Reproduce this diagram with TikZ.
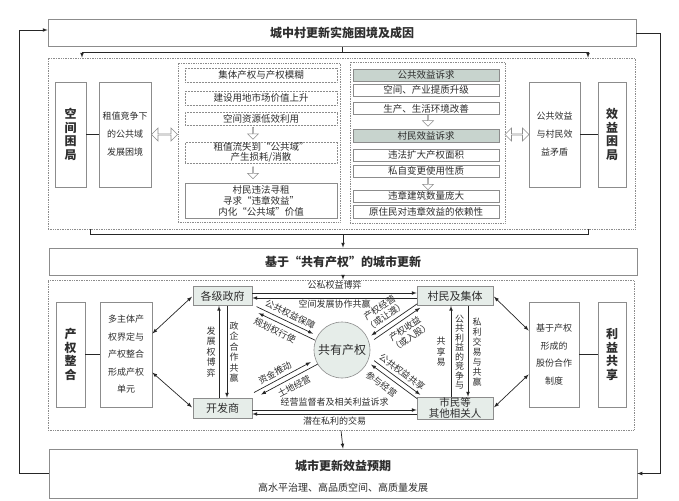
\documentclass[tikz,border=0pt]{standalone}
\usepackage{fontspec}
\setmainfont{Noto Sans CJK SC}
\usepackage{tikz}
\usetikzlibrary{arrows}
\usetikzlibrary{shapes.arrows}
\definecolor{linegray}{HTML}{8C8C8C}
\definecolor{textgray}{HTML}{2E2E2E}
\definecolor{headfill}{HTML}{C8D4CE}
\definecolor{nodefill}{HTML}{E6EDE9}

\begin{document}
\begin{tikzpicture}[x=1pt, y=-1pt, >=latex,
    every node/.style={text=textgray, inner sep=0pt},
    frame/.style={draw=linegray, line width=0.7pt, fill=white},
    area/.style={draw=linegray, line width=0.6pt, dash pattern=on 0.8pt off 0.9pt},
    headline/.style={frame, minimum width=588pt, minimum height=27pt, font=\fontsize{12}{14}\selectfont\bfseries},
    vlabel/.style={frame, align=center, minimum height=105pt, font=\fontsize{12}{13.5}\selectfont\bfseries},
    tbox/.style={frame, align=center, minimum height=105pt},
    item/.style={draw=linegray, line width=0.5pt, fill=white, minimum width=152pt, align=center, font=\fontsize{9.5}{11}\selectfont},
    ritem/.style={item, minimum width=146pt, minimum height=12pt},
    head/.style={ritem, fill=headfill},
    actor/.style={draw=linegray, line width=0.6pt, fill=nodefill, align=center, font=\fontsize{11}{11.5}\selectfont},
    conn/.style={line width=0.7pt, draw=black!85},
    small/.style={font=\fontsize{9}{10.5}\selectfont},
    vtext/.style={align=center, font=\fontsize{9}{10.5}\selectfont},
    hollowlr/.style={double arrow, draw=linegray, fill=white, line width=0.6pt, minimum width=13pt, minimum height=25pt, double arrow head extend=3pt},
    hollowdn/.style={single arrow, draw=linegray, fill=white, line width=0.5pt, minimum width=11pt, minimum height=12pt, single arrow head extend=2.5pt, shape border rotate=270}]

    \useasboundingbox (0,0) rectangle (679,500);

    \node[headline] (top) at (342,33) {城中村更新实施困境及成因};

    \node[area, minimum width=587pt, minimum height=171pt] (reg1) at (341.5,143.5) {};
    \coordinate (tl) at (82,52);
    \coordinate (tr) at (588,52);
    \draw[conn] (top.south) -- (top.south |- tl);
    \draw[conn, ->] (tl) -- (tl |- reg1.north);
    \draw[conn] (tl) -- (tr);
    \draw[conn, ->] (tr) -- (tr |- reg1.north);

    \node[vlabel, minimum width=31pt] (kjkj) at (70.5,134.5) {空\\间\\困\\局};
    \node[tbox, minimum width=52pt, font=\fontsize{9}{18}\selectfont] (zzjz) at (125,134.5) {租值竞争下\\的公共域\\发展困境};
    \draw[conn] (kjkj) -- (zzjz);
    \node[hollowlr, minimum height=26pt] (dal) at (164.5,134.5) {};

    \node[area, minimum width=162pt, minimum height=159pt] (midcol) at (259,142.5) {};
    \node[item, densely dotted, minimum height=14pt] (m1) at (261,75) {集体产权与产权模糊};
    \node[item, densely dotted, minimum height=14pt] (m2) at (261,98) {建设用地市场价值上升};
    \node[item, densely dotted, minimum height=13pt] (m3) at (261,118.5) {空间资源低效利用};
    \node[hollowdn] (ad1) at (253,133) {};
    \node[item, densely dotted, minimum height=21pt, font=\fontsize{9.5}{10.5}\selectfont] (m4) at (261,152.5) {租值流失到“公共域”\\产生损耗/消散};
    \node[hollowdn] (ad2) at (253,172.5) {};
    \node[item, line width=0.7pt, minimum height=35pt, font=\fontsize{9.5}{11}\selectfont] (m5) at (261,200.5) {村民违法寻租\\寻求“违章效益”\\内化“公共域”价值};

    \node[area, minimum width=155pt, minimum height=161pt] (rcol) at (427.5,142.5) {};
    \node[head] (r1) at (426,75) {公共效益诉求};
    \node[ritem] (r2) at (426,90) {空间、产业提质升级};
    \node[ritem] (r3) at (426,108.5) {生产、生活环境改善};
    \node[hollowdn] (ad3) at (428,120) {};
    \node[head, minimum height=13pt] (r4) at (426,135.5) {村民效益诉求};
    \node[ritem] (r5) at (426,155) {违法扩大产权面积};
    \node[ritem] (r6) at (426,171) {私自变更使用性质};
    \node[hollowdn] (ad4) at (428,183.5) {};
    \node[ritem] (r7) at (426,196) {违章建筑数量庞大};
    \node[ritem, minimum height=13pt] (r8) at (426,211.5) {原住民对违章效益的依赖性};

    \node[hollowlr, minimum height=24pt] (dar) at (517,134.5) {};
    \node[tbox, minimum width=51pt, font=\fontsize{9}{18}\selectfont] (ggxy) at (554.5,134.5) {公共效益\\与村民效\\益矛盾};
    \node[vlabel, minimum width=28pt] (xykj) at (612,134.5) {效\\益\\困\\局};
    \draw[conn] (ggxy) -- (xykj);

    \coordinate (bl) at (90,234);
    \coordinate (br) at (588,234);
    \node[headline] (mid) at (343,261.5) {基于“共有产权”的城市更新};
    \draw[conn] (bl |- reg1.south) -- (bl) -- (br) -- (br |- reg1.south);
    \draw[conn, ->] (mid.north |- bl) -- (mid.north);

    \node[area, minimum width=586pt, minimum height=150pt] (reg2) at (341,355) {};
    \draw[conn, ->] (mid.south) -- (mid.south |- reg2.north);

    \node[vlabel, minimum width=29pt] (cqzh) at (70.5,354.5) {产\\权\\整\\合};
    \node[tbox, minimum width=52pt, font=\fontsize{9}{17.5}\selectfont] (dztz) at (126,354.5) {多主体产\\权界定与\\产权整合\\形成产权\\单元};
    \draw[conn] (cqzh) -- (dztz);
    \node[tbox, minimum width=50pt, font=\fontsize{9}{17.5}\selectfont] (gfhz) at (554,354.5) {基于产权\\形成的\\股份合作\\制度};
    \node[vlabel, minimum width=28pt] (lygx) at (612,354.5) {利\\益\\共\\享};
    \draw[conn] (gfhz) -- (lygx);

    \node[actor, minimum width=59pt, minimum height=19pt] (zf) at (222.5,296) {各级政府};
    \node[actor, minimum width=59pt, minimum height=20pt] (kfs) at (222.5,408) {开发商};
    \node[actor, minimum width=76pt, minimum height=19pt] (cm) at (455,296) {村民及集体};
    \node[actor, minimum width=76pt, minimum height=22pt, font=\fontsize{10.5}{10.5}\selectfont] (sm) at (455,408) {市民等\\其他相关人};
    \node[circle, draw=linegray, line width=0.6pt, fill=nodefill, minimum size=56pt, font=\fontsize{12}{14}\selectfont] (gy) at (342,350) {共有产权};

    \draw[conn, <->, shorten >=1pt] ([yshift=21pt]dztz.east) -- (zf.west);
    \draw[conn, <->, shorten >=1pt] ([yshift=-18pt]dztz.east) -- (kfs.west);
    \draw[conn, <->, shorten <=1pt] (cm.east) -- ([yshift=24pt]gfhz.west);
    \draw[conn, <->, shorten <=1pt] (sm.east) -- ([yshift=-20pt]gfhz.west);

    \draw[conn, ->] ([xshift=-3.5pt]kfs.north) -- ([xshift=-3.5pt]zf.south);
    \draw[conn, ->] ([xshift=4.5pt]zf.south) -- ([xshift=4.5pt]kfs.north);
    \node[vtext] (fzq) at (211,352) {发\\展\\权\\博\\弈};
    \node[vtext] (zqhz) at (234,352) {政\\企\\合\\作\\共\\赢};

    \draw[conn, ->] ([xshift=-4pt]sm.north) -- ([xshift=-4pt]cm.south);
    \draw[conn, ->] ([xshift=13pt]cm.south) -- ([xshift=13pt]sm.north);
    \node[vtext] (gxy) at (441,352) {共\\享\\易};
    \node[vtext, font=\fontsize{9}{9.5}\selectfont] (ggly) at (459.5,352) {公\\共\\利\\益\\的\\竞\\争\\与};
    \node[vtext, font=\fontsize{9}{10}\selectfont] (sljy) at (477,352) {私\\利\\交\\易\\与\\共\\赢};

    \draw[conn, ->] ([yshift=3pt]zf.east) -- ([yshift=3pt]cm.west) node[midway, above=3pt, small] (gsqy) {公私权益博弈};
    \draw[conn, <-] ([yshift=-2pt]zf.east) -- ([yshift=-2pt]cm.west) node[midway, below=1.5pt, small] (kjfz) {空间发展协作共赢};
    \draw[conn, ->] ([yshift=-2pt]kfs.east) -- ([yshift=-2pt]sm.west) node[midway, above=3pt, small] (jyjd) {经营监督者及相关利益诉求};
    \draw[conn, <-] ([yshift=-6pt]kfs.east) -- ([yshift=-6pt]sm.west) node[midway, below=3pt, small] (qzsl) {潜在私利的交易};

    \draw[conn, ->, shorten >=5pt] ([xshift=4.2pt,yshift=-0.8pt]zf.south east) -- ([xshift=1.2pt,yshift=2.2pt]gy.155) node[midway, above=3pt, sloped, small] (ggbz) {公共权益保障};
    \draw[conn, <-, shorten <=5pt] ([xshift=1.8pt,yshift=-5.2pt]zf.south east) -- ([xshift=-1.2pt,yshift=-2.2pt]gy.155) node[pos=0.4, below=4pt, sloped, small] (ghqx) {规划权行使};

    \draw[conn, ->, shorten >=5pt] ([xshift=1.75pt,yshift=5.2pt]kfs.north east) -- ([xshift=-1.25pt,yshift=2.2pt]gy.205) node[pos=0.4, above=3pt, sloped, small] (zjtd) {资金推动};
    \draw[conn, <-, shorten <=5pt] ([xshift=4.25pt,yshift=0.8pt]kfs.north east) -- ([xshift=1.25pt,yshift=-2.2pt]gy.205) node[pos=0.55, below=4pt, sloped, small] (tdjy) {土地经营};

    \draw[conn, <-, shorten <=5pt] ([xshift=-1.4pt,yshift=2.05pt]gy.20) -- ([xshift=0.6pt,yshift=2.05pt]cm.south west) node[pos=0.45, above=3pt, sloped, align=center, small] (cqjy) {产权经营\\（或让渡）};
    \draw[conn, ->, shorten <=5pt] ([xshift=1.4pt,yshift=-2.05pt]gy.20) -- ([xshift=3.4pt,yshift=-2.05pt]cm.south west) node[pos=0.6, below=4pt, sloped, align=center, small] (cqsy) {产权收益\\（或入股）};

    \draw[conn, ->, shorten <=5pt] ([xshift=1.5pt,yshift=2pt]gy.-20) -- ([xshift=3.5pt,yshift=2pt]sm.north west) node[pos=0.55, above=3pt, sloped, small] (ggxs) {公共权益共享};
    \draw[conn, <-, shorten <=5pt] ([xshift=-1.5pt,yshift=-2pt]gy.-20) -- ([xshift=0.5pt,yshift=-2pt]sm.north west) node[pos=0.4, below=5pt, sloped, small] (cyjy) {参与经营};

    \node[frame, minimum width=588pt, minimum height=49pt] (bot) at (343,473.5) {};
    \node[font=\fontsize{12}{14}\selectfont\bfseries] (bott) at (343,466) {城市更新效益预期};
    \node[font=\fontsize{10}{12}\selectfont] (bots) at (343,488) {高水平治理、高品质空间、高质量发展};
    \draw[conn, ->] (reg2.south) -- (bot.north);

    \draw[conn, ->] (bot.west) -- ++(-29,0) |- ([yshift=3pt]top.west);
    \draw[conn, ->] (top.east) -- ++(24,0) |- (bot.east);
\end{tikzpicture}
\end{document}
